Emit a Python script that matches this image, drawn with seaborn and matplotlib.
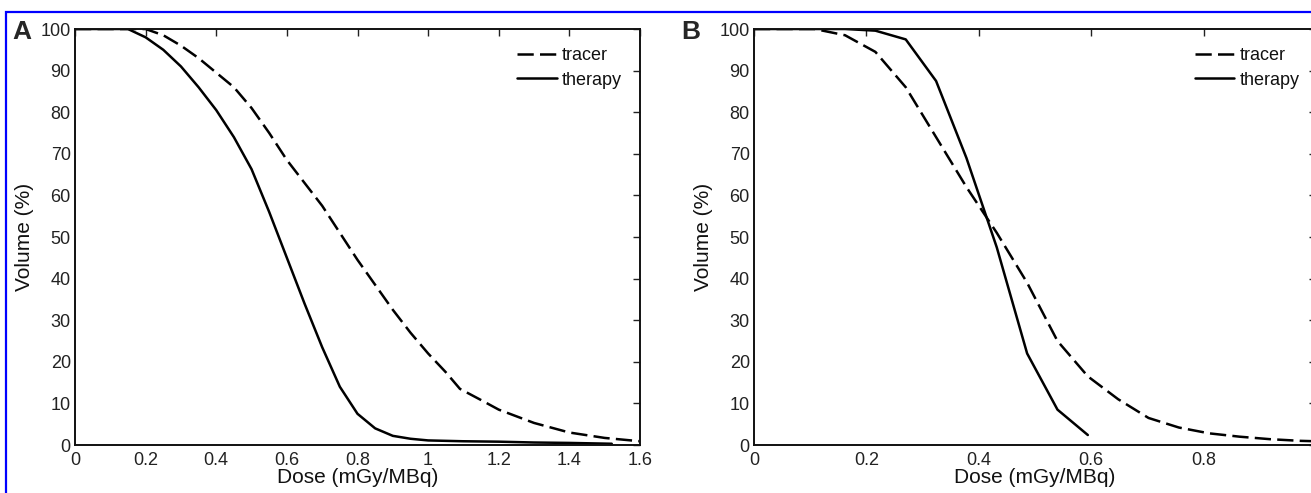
import numpy as np
import pandas as pd
import matplotlib
matplotlib.use("Agg")
import matplotlib.pyplot as plt
from matplotlib.patches import Rectangle
import seaborn as sns

# ---------------- data ----------------
# Panel A
dose_a_tracer = [0.0, 0.2, 0.25, 0.3, 0.35, 0.4, 0.45, 0.5, 0.55, 0.6, 0.65, 0.7, 0.75,
                 0.8, 0.85, 0.9, 0.95, 1.0, 1.05, 1.09, 1.15, 1.2, 1.3, 1.4, 1.5, 1.6]
vol_a_tracer = [100, 100, 98.5, 96, 93, 89.5, 86, 81, 75, 68.5, 63, 57.5, 51,
                44.5, 38.5, 32.5, 27, 22, 17.5, 13.5, 10.8, 8.5, 5.3, 3.0, 1.7, 0.9]
dose_a_therapy = [0.0, 0.15, 0.2, 0.25, 0.3, 0.35, 0.4, 0.45, 0.5, 0.55, 0.6, 0.65, 0.7,
                  0.75, 0.8, 0.85, 0.9, 0.95, 1.0, 1.1, 1.2, 1.3, 1.4, 1.52]
vol_a_therapy = [100, 100, 98, 95, 91, 86, 80.5, 74, 66.3, 56, 45, 34, 23.5,
                 14, 7.5, 4.0, 2.2, 1.5, 1.1, 0.9, 0.8, 0.6, 0.5, 0.3]

# Panel B
dose_b_tracer = [0.0, 0.108, 0.162, 0.216, 0.27, 0.324, 0.378, 0.432, 0.486, 0.54,
                 0.594, 0.648, 0.702, 0.756, 0.81, 0.864, 0.918, 0.972, 1.0]
vol_b_tracer = [100, 100, 98.5, 94.5, 86, 74, 62, 51, 39, 25,
                16.5, 11, 6.5, 4.2, 2.8, 2.0, 1.4, 1.0, 0.9]
dose_b_therapy = [0.0, 0.108, 0.162, 0.216, 0.27, 0.324, 0.378, 0.432, 0.486, 0.54, 0.594]
vol_b_therapy = [100, 100, 100, 99.6, 97.5, 87.5, 69, 47.5, 22, 8.5, 2.4]

series_labels = ["tracer", "therapy"]
panel_letters = ["A", "B"]
xticks_a = [0, 0.2, 0.4, 0.6, 0.8, 1.0, 1.2, 1.4, 1.6]
xticklabels_a = ["0", "0.2", "0.4", "0.6", "0.8", "1", "1.2", "1.4", "1.6"]
xticks_b = [0, 0.2, 0.4, 0.6, 0.8, 1.0]
xticklabels_b = ["0", "0.2", "0.4", "0.6", "0.8", ""]  # "1" falls outside the cropped image
yticks = [0, 10, 20, 30, 40, 50, 60, 70, 80, 90, 100]
xlabel = "Dose (mGy/MBq)"
ylabel = "Volume (%)"

# ---------------- style ----------------
sns.set_style("white")
plt.rcParams["font.family"] = ["Liberation Sans", "DejaVu Sans"]

W, H = 1311, 493
fig = plt.figure(figsize=(W / 100, H / 100), dpi=100)

def px_axes(left, top, right, bottom):
    return [left / W, 1 - bottom / H, (right - left) / W, (bottom - top) / H]

ax_a = fig.add_axes(px_axes(75, 29, 640, 445))
ax_b = fig.add_axes(px_axes(754, 29, 1316, 445))

dash = (6.5, 2.5)
lw = 1.8

def draw(ax, dt, vt, dth, vth, xmax, xt, xtl, leg_x):
    df_t = pd.DataFrame({"dose": dt, "vol": vt})
    df_h = pd.DataFrame({"dose": dth, "vol": vth})
    sns.lineplot(data=df_t, x="dose", y="vol", ax=ax, color="black", lw=lw,
                 label=series_labels[0], linestyle=(0, dash), sort=False)
    sns.lineplot(data=df_h, x="dose", y="vol", ax=ax, color="black", lw=lw,
                 label=series_labels[1], sort=False)
    ax.set_xlim(0, xmax)
    ax.set_ylim(0, 100)
    ax.set_xticks(xt)
    ax.set_xticklabels(xtl)
    ax.set_yticks(yticks)
    ax.set_yticklabels([str(v) for v in yticks])
    ax.tick_params(direction="in", top=True, right=True, length=5, width=1.0,
                   labelsize=13, colors="#222222")
    ax.tick_params(axis="x", pad=5)
    ax.tick_params(axis="y", pad=3)
    for s in ax.spines.values():
        s.set_linewidth(1.4)
        s.set_color("#111111")
        s.set_visible(True)
    ax.set_xlabel(xlabel, fontsize=15, labelpad=-1, color="#111111")
    ax.set_ylabel(ylabel, fontsize=15, labelpad=5, color="#111111")
    leg = ax.legend(loc="upper left", bbox_to_anchor=(leg_x, 0.956), frameon=False,
                    fontsize=13, handlelength=2.2, handletextpad=0.28,
                    labelspacing=0.4, borderpad=0, borderaxespad=0)
    for t in leg.get_texts():
        t.set_color("#111111")

draw(ax_a, dose_a_tracer, vol_a_tracer, dose_a_therapy, vol_a_therapy,
     1.6, xticks_a, xticklabels_a, 0.782)
draw(ax_b, dose_b_tracer, vol_b_tracer, dose_b_therapy, vol_b_therapy,
     1.0, xticks_b, xticklabels_b, 0.784)

# panel letters
fig.text(12 / W, 1 - 32 / H, panel_letters[0], fontsize=19, fontweight="bold",
         va="center", ha="left")
fig.text(681 / W, 1 - 32 / H, panel_letters[1], fontsize=19, fontweight="bold",
         va="center", ha="left")

# blue frame
fig.patches.append(Rectangle((6 / W, -0.1), 1.2, 1 - 12 / H + 0.1,
                             transform=fig.transFigure, fill=False,
                             edgecolor="#0000ff", lw=1.6, zorder=10))

fig.savefig("out.png", dpi=100)
